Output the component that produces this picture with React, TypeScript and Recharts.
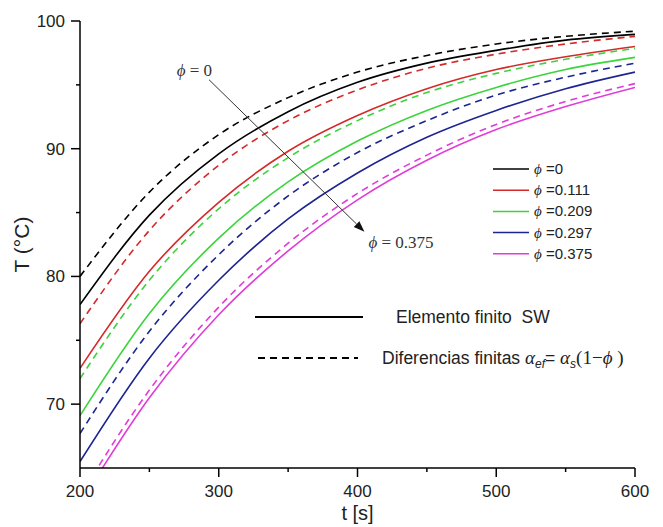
import { LineChart, Line, XAxis, YAxis, Legend, ReferenceLine } from 'recharts'

const TIME = [200, 250, 300, 350, 400, 450, 500, 550, 600]

// solid = finite element SW, dashed = finite differences
const SW_PHI_0 = [77.8, 84.8, 89.6, 92.9, 95.2, 96.7, 97.7, 98.5, 98.95]
const FD_PHI_0 = [80.0, 86.6, 91.1, 94.0, 96.0, 97.3, 98.2, 98.8, 99.2]
const SW_PHI_111 = [72.8, 80.4, 85.8, 89.8, 92.6, 94.7, 96.2, 97.2, 98.0]
const FD_PHI_111 = [76.3, 83.6, 88.7, 92.2, 94.6, 96.3, 97.4, 98.2, 98.8]
const SW_PHI_209 = [69.1, 77.1, 83.0, 87.4, 90.6, 93.0, 94.8, 96.2, 97.15]
const FD_PHI_209 = [72.0, 79.7, 85.3, 89.3, 92.2, 94.4, 95.9, 97.0, 97.85]
const SW_PHI_297 = [65.5, 73.6, 79.7, 84.5, 88.1, 90.9, 93.0, 94.7, 96.0]
const FD_PHI_297 = [67.7, 75.7, 81.7, 86.3, 89.7, 92.2, 94.2, 95.6, 96.7]
const SW_PHI_375 = [62.2, 70.5, 77.0, 82.0, 86.0, 89.1, 91.5, 93.3, 94.8]
const FD_PHI_375 = [62.8, 71.1, 77.6, 82.6, 86.5, 89.5, 91.9, 93.7, 95.1]

const PHI_LABELS = ['0', '0.111', '0.209', '0.297', '0.375']

const X_TICKS = [200, 250, 300, 350, 400, 450, 500, 550, 600]
const Y_TICKS = [70, 75, 80, 85, 90, 95, 100]

const COLORS = ['#000000', '#d42a2a', '#3cd43c', '#1c2590', '#e03cd8']

const SERIES = [
  { sw: SW_PHI_0, fd: FD_PHI_0 },
  { sw: SW_PHI_111, fd: FD_PHI_111 },
  { sw: SW_PHI_209, fd: FD_PHI_209 },
  { sw: SW_PHI_297, fd: FD_PHI_297 },
  { sw: SW_PHI_375, fd: FD_PHI_375 },
]

const data = TIME.map((t, i) => {
  const row: Record<string, number> = { t }
  SERIES.forEach((s, k) => {
    row[`sw${k}`] = s.sw[i]
    row[`fd${k}`] = s.fd[i]
  })
  return row
})

const SANS = '"Liberation Sans", Arial, sans-serif'
const SERIF = '"Liberation Serif", "DejaVu Serif", serif'

function BottomTick({ x, y, payload }: any) {
  const major = payload.value % 100 === 0
  return (
    <g>
      <line x1={x} y1={y} x2={x} y2={y + (major ? 9 : 4)} stroke="#000" strokeWidth={1.5} />
      {major && (
        <text x={x} y={y + 29} textAnchor="middle" fontSize={17} fontFamily={SANS} fill="#222">
          {payload.value}
        </text>
      )}
    </g>
  )
}

function TopTick({ x, y, payload }: any) {
  const major = payload.value % 100 === 0
  return <line x1={x} y1={y} x2={x} y2={y + (major ? 8 : 4)} stroke="#000" strokeWidth={1.5} />
}

function LeftTick({ x, y, payload }: any) {
  const major = payload.value % 10 === 0
  return (
    <g>
      <line x1={x} y1={y} x2={x - (major ? 9 : 4)} y2={y} stroke="#000" strokeWidth={1.5} />
      {major && (
        <text x={x - 15} y={y + 6} textAnchor="end" fontSize={17} fontFamily={SANS} fill="#222">
          {payload.value}
        </text>
      )}
    </g>
  )
}

function RightTick({ x, y, payload }: any) {
  const major = payload.value % 10 === 0
  return <line x1={x} y1={y} x2={x - (major ? 8 : 4)} y2={y} stroke="#000" strokeWidth={1.5} />
}

function Arrow({ x1, y1, x2, y2 }: any) {
  const ang = Math.atan2(y2 - y1, x2 - x1)
  const len = 11
  const w = 4
  const bx = x2 - len * Math.cos(ang)
  const by = y2 - len * Math.sin(ang)
  const px = -Math.sin(ang) * w
  const py = Math.cos(ang) * w
  return (
    <g>
      <line x1={x1} y1={y1} x2={bx} y2={by} stroke="#333" strokeWidth={1} />
      <polygon points={`${x2},${y2} ${bx + px},${by + py} ${bx - px},${by - py}`} fill="#111" />
      <text x={x1 + 3} y={y1 - 4} textAnchor="end" fontSize={17} fontFamily={SERIF} fill="#333">
        <tspan fontStyle="italic">ϕ</tspan> = 0
      </text>
      <text x={x2 + 4} y={y2 + 16} fontSize={17} fontFamily={SERIF} fill="#333">
        <tspan fontStyle="italic">ϕ</tspan> = 0.375
      </text>
    </g>
  )
}

function renderLegend(props: any) {
  const items = (props.payload || []).filter((e: any) => e.type !== 'none')
  return (
    <svg width={663} height={527} style={{ position: 'absolute', left: 0, top: 0 }}>
      {items.map((e: any, i: number) => {
        const y = 169 + i * 21.2
        return (
          <g key={e.value}>
            <line x1={493} y1={y} x2={529} y2={y} stroke={e.color} strokeWidth={1.5} />
            <text x={534} y={y + 5} fontSize={15} fontFamily={SANS} fill="#222">
              <tspan fontFamily={SERIF} fontStyle="italic">ϕ</tspan> ={e.value}
            </text>
          </g>
        )
      })}
      <line x1={255} y1={317} x2={363} y2={317} stroke="#000" strokeWidth={1.8} />
      <text x={396} y={323} fontSize={17.5} fontFamily={SANS} fill="#222" xmlSpace="preserve">
        Elemento finito  SW
      </text>
      <line x1={258} y1={358} x2={358} y2={358} stroke="#000" strokeWidth={1.8} strokeDasharray="7 5" />
      <text x={382} y={364} fontSize={17.5} fontFamily={SANS} fill="#222">
        Diferencias finitas{' '}
        <tspan fontFamily={SERIF} fontStyle="italic" fontSize={19}>α</tspan>
        <tspan fontSize={12} dy={4} fontStyle="italic">ef</tspan>
        <tspan dy={-4}>= </tspan>
        <tspan fontFamily={SERIF} fontStyle="italic" fontSize={19}>α</tspan>
        <tspan fontSize={12} dy={4} fontStyle="italic">s</tspan>
        <tspan fontFamily={SERIF} fontSize={19} dy={-4}>(1−</tspan>
        <tspan fontFamily={SERIF} fontSize={19} fontStyle="italic">ϕ</tspan>
        <tspan fontFamily={SERIF} fontSize={19}> )</tspan>
      </text>
    </svg>
  )
}

export default function App() {
  return (
    <div style={{ position: 'absolute', left: 0, top: 0, background: '#fff' }}>
      <LineChart width={663} height={527} data={data} margin={{ top: 21, right: 28, bottom: 29, left: 20 }}>
        <XAxis
          dataKey="t"
          type="number"
          domain={[200, 600]}
          ticks={X_TICKS}
          interval={0}
          allowDataOverflow
          height={30}
          tickSize={0}
          tickMargin={0}
          tickLine={false}
          tick={(p: any) => <BottomTick {...p} />}
          axisLine={{ stroke: '#000', strokeWidth: 1.5 }}
          label={{ value: 't [s]', position: 'bottom', offset: 8, fontSize: 20, fontFamily: SANS, fill: '#222' }}
        />
        <XAxis
          xAxisId="top"
          orientation="top"
          dataKey="t"
          type="number"
          domain={[200, 600]}
          ticks={X_TICKS}
          interval={0}
          allowDataOverflow
          height={0}
          tickSize={0}
          tickMargin={0}
          tickLine={false}
          tick={(p: any) => <TopTick {...p} />}
          axisLine={{ stroke: '#000', strokeWidth: 1.5 }}
        />
        <YAxis
          type="number"
          domain={[65, 100]}
          ticks={Y_TICKS}
          interval={0}
          allowDataOverflow
          width={60}
          tickSize={0}
          tickMargin={0}
          tickLine={false}
          tick={(p: any) => <LeftTick {...p} />}
          axisLine={{ stroke: '#000', strokeWidth: 1.5 }}
          label={{
            content: ({ viewBox }: any) => {
              const cx = viewBox.x + 9
              const cy = viewBox.y + viewBox.height / 2
              return (
                <text x={cx} y={cy} transform={`rotate(-90, ${cx}, ${cy})`} textAnchor="middle" fontSize={21} fontFamily={SANS} fill="#222">
                  T (°C)
                </text>
              )
            },
          }}
        />
        <YAxis
          yAxisId="right"
          orientation="right"
          type="number"
          domain={[65, 100]}
          ticks={Y_TICKS}
          interval={0}
          allowDataOverflow
          width={0}
          tickSize={0}
          tickMargin={0}
          tickLine={false}
          tick={(p: any) => <RightTick {...p} />}
          axisLine={{ stroke: '#000', strokeWidth: 1.5 }}
        />
        {SERIES.map((_, k) => (
          <Line
            key={`fd${k}`}
            dataKey={`fd${k}`}
            type="monotone"
            stroke={COLORS[k]}
            strokeWidth={1.6}
            strokeDasharray="7 5"
            dot={false}
            legendType="none"
            isAnimationActive={false}
          />
        ))}
        {SERIES.map((_, k) => (
          <Line
            key={`sw${k}`}
            dataKey={`sw${k}`}
            name={PHI_LABELS[k]}
            type="monotone"
            stroke={COLORS[k]}
            strokeWidth={1.6}
            dot={false}
            isAnimationActive={false}
          />
        ))}
        <ReferenceLine
          segment={[
            { x: 293, y: 95.4 },
            { x: 405, y: 83.5 },
          ]}
          shape={(p: any) => <Arrow {...p} />}
        />
        <Legend
          layout="vertical"
          align="center"
          verticalAlign="middle"
          wrapperStyle={{ left: 0, top: 0, width: 663, height: 527 }}
          content={renderLegend}
        />
      </LineChart>
    </div>
  )
}
